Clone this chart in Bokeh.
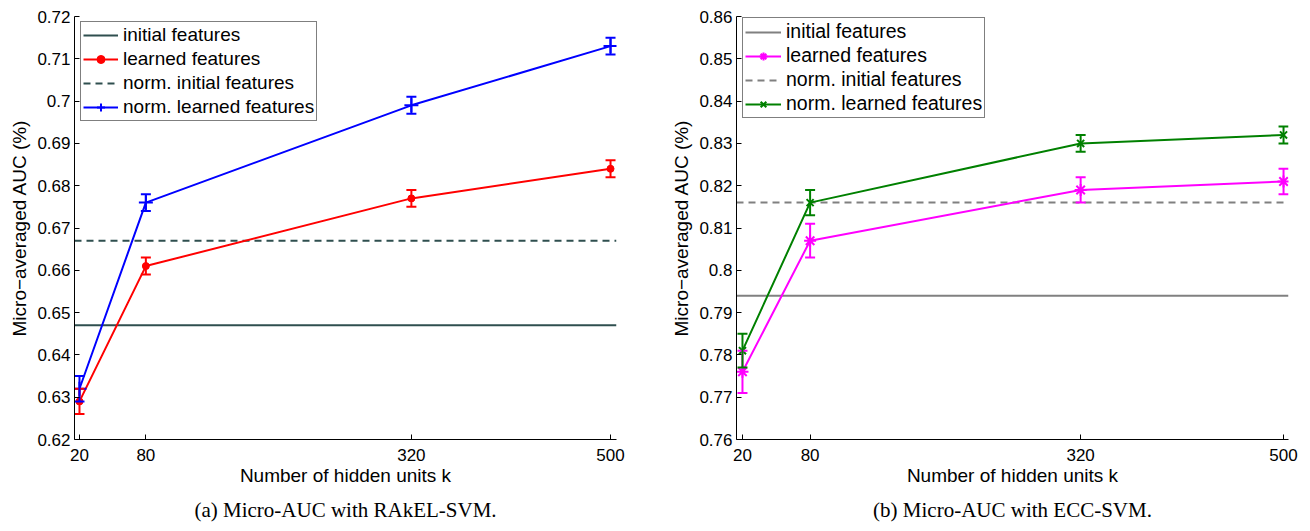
from bokeh.plotting import figure
from bokeh.models import (Range1d, FixedTicker, Legend, LegendItem, Whisker,
                          TeeHead, ColumnDataSource, Title)
from bokeh.layouts import row
from bokeh.embed import file_html
from bokeh.resources import INLINE

# ---------------- data ----------------
k = [20, 80, 320, 500]
x_ticks = [20, 80, 320, 500]

# (a) RAkEL-SVM
a_initial = 0.647
a_norm_initial = 0.667
a_learned = [0.629, 0.661, 0.677, 0.684]
a_learned_err = [0.003, 0.002, 0.002, 0.002]
a_norm_learned = [0.632, 0.676, 0.699, 0.713]
a_norm_learned_err = [0.003, 0.002, 0.002, 0.002]
a_yticks = [0.62, 0.63, 0.64, 0.65, 0.66, 0.67, 0.68, 0.69, 0.70, 0.71, 0.72]
a_ylabels = ["0.62", "0.63", "0.64", "0.65", "0.66", "0.67", "0.68", "0.69", "0.7", "0.71", "0.72"]

# (b) ECC-SVM
b_initial = 0.794
b_norm_initial = 0.816
b_learned = [0.776, 0.807, 0.819, 0.821]
b_learned_err = [0.005, 0.004, 0.003, 0.003]
b_norm_learned = [0.781, 0.816, 0.830, 0.832]
b_norm_learned_err = [0.004, 0.003, 0.002, 0.002]
b_yticks = [0.76, 0.77, 0.78, 0.79, 0.80, 0.81, 0.82, 0.83, 0.84, 0.85, 0.86]
b_ylabels = ["0.76", "0.77", "0.78", "0.79", "0.8", "0.81", "0.82", "0.83", "0.84", "0.85", "0.86"]

labels = ["initial features", "learned features", "norm. initial features", "norm. learned features"]

SANS = "Liberation Sans"
FRAME_H = 427


def make_panel(width, height, xr, yr, yticks, ylabels, initial, norm_initial, learned, learned_err,
               norm_learned, norm_learned_err, c_init, c_learn, m_learn, c_norm, m_norm,
               caption, border_left, border_right, border_top, legend_loc, legend_font,
               glyph_w, legend_spacing, cap_offset):
    p = figure(width=width, height=height, x_range=Range1d(*xr), y_range=Range1d(*yr),
               output_backend="svg", toolbar_location=None,
               min_border_left=border_left, min_border_right=border_right,
               min_border_top=border_top, min_border_bottom=height - border_top - FRAME_H)
    p.outline_line_color = None
    p.xgrid.visible = False
    p.ygrid.visible = False
    p.background_fill_color = "white"
    p.border_fill_color = "white"

    for ax in (p.xaxis[0], p.yaxis[0]):
        ax.major_tick_in = 5
        ax.major_tick_out = 0
        ax.minor_tick_line_color = None
        ax.axis_line_color = "black"
        ax.major_tick_line_color = "black"
        ax.major_label_text_font = SANS
        ax.major_label_text_font_size = "17px"
        ax.major_label_text_color = "black"
        ax.axis_label_text_font = SANS
        ax.axis_label_text_font_size = "19px"
        ax.axis_label_text_font_style = "normal"
        ax.axis_label_text_color = "black"
    p.xaxis.major_label_standoff = 9
    p.yaxis.major_label_standoff = 4
    p.xaxis.ticker = FixedTicker(ticks=x_ticks)
    p.yaxis.ticker = FixedTicker(ticks=yticks)
    p.yaxis.major_label_overrides = {t: s for t, s in zip(yticks, ylabels)}
    p.xaxis.axis_label = "Number of hidden units k"
    p.yaxis.axis_label = "Micro\u2212averaged AUC (%)"
    p.xaxis.axis_label_standoff = 1
    p.yaxis.axis_label_standoff = 4

    xs = [xr[0], xr[1]]
    r_init = p.line(xs, [initial, initial], line_color=c_init, line_width=2)
    r_ninit = p.line(xs, [norm_initial, norm_initial], line_color=c_init, line_width=2,
                     line_dash="7 5")

    def series(vals, errs, color, marker):
        src = ColumnDataSource(dict(x=k, y=vals,
                                    lo=[v - e for v, e in zip(vals, errs)],
                                    hi=[v + e for v, e in zip(vals, errs)]))
        w = Whisker(base="x", upper="hi", lower="lo", source=src, line_color=color,
                    line_width=2,
                    upper_head=TeeHead(size=10, line_color=color, line_width=2),
                    lower_head=TeeHead(size=10, line_color=color, line_width=2),
                    level="glyph")
        p.add_layout(w)
        rl = p.line("x", "y", source=src, line_color=color, line_width=2)
        if marker == "circle":
            rm = p.scatter("x", "y", source=src, marker="circle", size=7,
                           fill_color=color, line_color=color)
        else:
            sz = {"cross": 14, "asterisk": 12, "x": 10}[marker]
            rm = p.scatter("x", "y", source=src, marker=marker, size=sz,
                           line_color=color, line_width=2)
        return rl, rm

    l1, m1 = series(learned, learned_err, c_learn, m_learn)
    l2, m2 = series(norm_learned, norm_learned_err, c_norm, m_norm)

    legend = Legend(items=[LegendItem(label=labels[0], renderers=[r_init]),
                           LegendItem(label=labels[1], renderers=[l1, m1]),
                           LegendItem(label=labels[2], renderers=[r_ninit]),
                           LegendItem(label=labels[3], renderers=[l2, m2])],
                    location=legend_loc, margin=0,
                    label_text_font=SANS, label_text_font_size=legend_font,
                    label_text_color="black",
                    glyph_width=glyph_w, glyph_height=20, label_height=20,
                    label_standoff=5, spacing=legend_spacing, padding=2,
                    border_line_color="black", border_line_width=1,
                    background_fill_alpha=1.0)
    p.add_layout(legend)

    p.add_layout(Title(text=caption, align="center", offset=cap_offset,
                       text_font="Liberation Serif", text_font_size="21px",
                       text_font_style="normal", text_color="black", standoff=15), "below")
    return p


# legend location: (x, y) of the legend's bottom-left corner, in pixels from the frame's bottom-left
p1 = make_panel(663, 529, (15.5, 505.4), (0.62, 0.72), a_yticks, a_ylabels,
                a_initial, a_norm_initial, a_learned, a_learned_err,
                a_norm_learned, a_norm_learned_err,
                "#2F4F4F", "#FF0000", "circle", "#0000FF", "cross",
                "(a) Micro-AUC with RAkEL-SVM.", 74, 47, 16, (6, 318), "19px", 35, 2, 14)
p2 = make_panel(639, 529, (14.7, 504.4), (0.76, 0.86), b_yticks, b_ylabels,
                b_initial, b_norm_initial, b_learned, b_learned_err,
                b_norm_learned, b_norm_learned_err,
                "#808080", "#FF00FF", "asterisk", "#008000", "x",
                "(b) Micro-AUC with ECC-SVM.", 73, 14, 15, (6, 321), "19.5px", 36, 1, 0)

layout = row(p1, p2)
open("out.html", "w").write(file_html(layout, INLINE))
